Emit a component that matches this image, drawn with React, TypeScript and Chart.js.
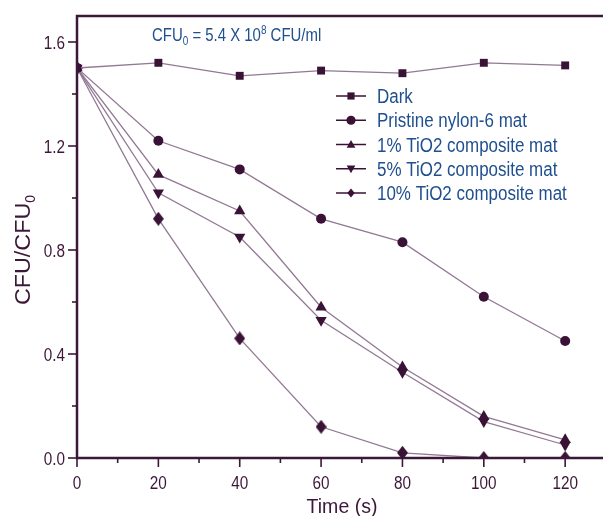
import React, { useEffect, useRef } from "react";
import { Chart, registerables } from "chart.js";
Chart.register(...registerables);

const times = [0, 20, 40, 60, 80, 100, 120];
const dark = [1.5, 1.52, 1.47, 1.49, 1.48, 1.52, 1.51];
const pristine = [1.5, 1.22, 1.11, 0.92, 0.83, 0.62, 0.45];
const tio2_1 = [1.5, 1.09, 0.95, 0.58, 0.35, 0.16, 0.07];
const tio2_5 = [1.5, 1.02, 0.85, 0.53, 0.33, 0.14, 0.05];
const tio2_10 = [1.5, 0.92, 0.46, 0.12, 0.02, 0.0, 0.0];
const seriesLabels = [
  "Dark",
  "Pristine nylon-6 mat",
  "1% TiO2 composite mat",
  "5% TiO2 composite mat",
  "10% TiO2 composite mat",
];
const xTicks = [0, 20, 40, 60, 80, 100, 120];
const yTicks = [0.0, 0.4, 0.8, 1.2, 1.6];

const AXIS = "#3b1838";
const LINE = "#927894";
const MARK = "#3a1236";
const BLUE = "#1f4f8f";
const FONT = "'Liberation Sans', Arial, sans-serif";

function makeDiamond(w: number, h: number) {
  const c = document.createElement("canvas");
  c.width = w;
  c.height = h;
  const g = c.getContext("2d")!;
  g.fillStyle = MARK;
  g.beginPath();
  g.moveTo(w / 2, 0);
  g.lineTo(w, h / 2);
  g.lineTo(w / 2, h);
  g.lineTo(0, h / 2);
  g.closePath();
  g.fill();
  return c;
}

const styles: any[] = [
  { pointStyle: "rect", radius: 5.6, rotation: 0 },
  { pointStyle: "circle", radius: 5, rotation: 0 },
  { pointStyle: "triangle", radius: 6.5, rotation: 0 },
  { pointStyle: "triangle", radius: 6.5, rotation: 180 },
  { pointStyle: "diamond", radius: 6, rotation: 0 },
];

function sText(ctx: any, t: string, x: number, y: number, size: number, sx: number, align: string) {
  ctx.save();
  ctx.font = `${size}px ${FONT}`;
  const w = ctx.measureText(t).width * sx;
  let left = x;
  if (align === "center") left = x - w / 2;
  else if (align === "right") left = x - w;
  ctx.translate(left, y);
  ctx.scale(sx, 1);
  ctx.textAlign = "left";
  ctx.fillText(t, 0, 0);
  ctx.restore();
  return w;
}

function drawPt(ctx: any, style: string, r: number, rot: number, x: number, y: number) {
  ctx.save();
  ctx.translate(x, y);
  ctx.rotate((rot * Math.PI) / 180);
  ctx.beginPath();
  if (style === "rect") {
    ctx.rect(-r, -r, r * 2, r * 2);
  } else if (style === "circle") {
    ctx.arc(0, 0, r, 0, Math.PI * 2);
  } else if (style === "triangle") {
    ctx.moveTo(0, -r);
    ctx.lineTo(r * 0.95, r * 0.7);
    ctx.lineTo(-r * 0.95, r * 0.7);
    ctx.closePath();
  } else {
    ctx.moveTo(0, -r);
    ctx.lineTo(r * 0.8, 0);
    ctx.lineTo(0, r);
    ctx.lineTo(-r * 0.8, 0);
    ctx.closePath();
  }
  ctx.fill();
  ctx.restore();
}

const decor = {
  id: "decor",
  afterDraw(chart: any) {
    const { ctx, chartArea: ca, scales } = chart;
    const xs = scales.x, ys = scales.y;
    const W = chart.width;
    ctx.save();
    ctx.strokeStyle = AXIS;
    ctx.lineWidth = 2.5;
    ctx.beginPath();
    ctx.moveTo(W, ca.top);
    ctx.lineTo(ca.left, ca.top);
    ctx.lineTo(ca.left, ca.bottom);
    ctx.lineTo(W, ca.bottom);
    ctx.stroke();
    ctx.lineWidth = 1.6;
    for (let v = 0; v <= 120; v += 10) {
      const px = xs.getPixelForValue(v);
      const len = v % 20 === 0 ? 9 : 5;
      ctx.beginPath();
      ctx.moveTo(px, ca.bottom);
      ctx.lineTo(px, ca.bottom + len);
      ctx.stroke();
    }
    for (let i = 0; i <= 8; i++) {
      const py = ys.getPixelForValue(i * 0.2);
      const len = i % 2 === 0 ? 9 : 5;
      ctx.beginPath();
      ctx.moveTo(ca.left, py);
      ctx.lineTo(ca.left - len, py);
      ctx.stroke();
    }
    ctx.fillStyle = AXIS;
    ctx.textBaseline = "alphabetic";
    for (const v of xTicks) {
      sText(ctx, String(v), xs.getPixelForValue(v), 489, 18, 0.85, "center");
    }
    for (const v of yTicks) {
      sText(ctx, v.toFixed(1), 65, ys.getPixelForValue(v) + 6.5, 18, 0.85, "right");
    }
    sText(ctx, "Time (s)", 342, 513, 21, 0.93, "center");
    ctx.save();
    ctx.translate(30, 250);
    ctx.rotate(-Math.PI / 2);
    ctx.font = `22px ${FONT}`;
    const main = "CFU/CFU";
    const w = ctx.measureText(main).width * 1.06;
    ctx.font = `14px ${FONT}`;
    const sw = ctx.measureText("0").width;
    const start = -(w + sw) / 2;
    sText(ctx, main, start, 0, 22, 1.06, "left");
    sText(ctx, "0", start + w, 5, 14, 1, "left");
    ctx.restore();
    ctx.fillStyle = BLUE;
    let x = 152;
    const y = 41;
    const seg = (t: string, size: number, dy: number) => {
      x += sText(ctx, t, x, y + dy, size, 0.83, "left");
    };
    seg("CFU", 18, 0);
    seg("0", 12, 4);
    seg(" = 5.4 X 10", 18, 0);
    seg("8", 12, -7);
    seg(" CFU/ml", 18, 0);
    const lx0 = 336, lx1 = 366, tx = 377;
    for (let i = 0; i < seriesLabels.length; i++) {
      const ly = 96 + i * 24.25;
      ctx.strokeStyle = MARK;
      ctx.lineWidth = 1.5;
      ctx.beginPath();
      ctx.moveTo(lx0, ly);
      ctx.lineTo(lx1, ly);
      ctx.stroke();
      ctx.fillStyle = MARK;
      const s = styles[i];
      drawPt(ctx, s.pointStyle, i === 0 ? 3.6 : 4.6, s.rotation, (lx0 + lx1) / 2, ly);
      ctx.fillStyle = BLUE;
      sText(ctx, seriesLabels[i], tx, ly + 7, 19.5, 0.87, "left");
    }
    ctx.restore();
  },
};

export default function App() {
  const ref = useRef<HTMLCanvasElement>(null);
  useEffect(() => {
    document.body.style.margin = "0";
    const diamond = makeDiamond(11, 14);
    const all = [dark, pristine, tio2_1, tio2_5, tio2_10];
    const chart = new Chart(ref.current!, {
      type: "line",
      data: {
        datasets: all.map((d, i) => ({
          label: seriesLabels[i],
          data: d.map((v, j) => ({ x: times[j], y: v })),
          borderColor: LINE,
          borderWidth: 1.3,
          pointBackgroundColor: MARK,
          pointBorderColor: MARK,
          pointBorderWidth: 0,
          pointStyle: styles[i].pointStyle === "diamond" ? diamond : styles[i].pointStyle,
          pointRadius: styles[i].radius,
          pointRotation: styles[i].rotation,
          tension: 0,
        })),
      },
      options: {
        animation: false,
        responsive: false,
        layout: { autoPadding: false, padding: { top: 16, right: 0, left: 0, bottom: 0 } },
        plugins: { legend: { display: false }, tooltip: { enabled: false } },
        scales: {
          x: {
            type: "linear",
            min: 0,
            max: 129.3,
            grid: { display: false },
            border: { display: false },
            afterBuildTicks: (s: any) => {
              s.ticks = xTicks.map((v) => ({ value: v }));
            },
            afterFit: (s: any) => {
              s.height = 58;
            },
            ticks: { display: false },
          },
          y: {
            type: "linear",
            min: 0,
            max: 1.7,
            grid: { display: false },
            border: { display: false },
            afterBuildTicks: (s: any) => {
              s.ticks = yTicks.map((v) => ({ value: v }));
            },
            afterFit: (s: any) => {
              s.width = 77;
            },
            ticks: { display: false },
          },
        },
      } as any,
      plugins: [decor],
    });
    return () => chart.destroy();
  }, []);
  return <canvas ref={ref} width={603} height={516} style={{ display: "block" }} />;
}
